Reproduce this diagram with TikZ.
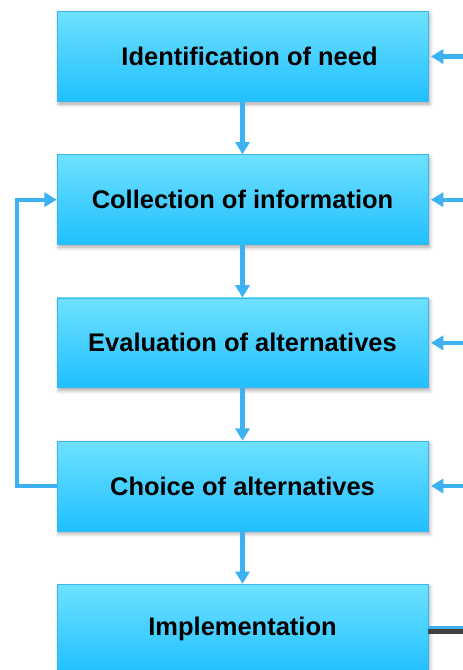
\documentclass[tikz,border=0pt]{standalone}
\usepackage{fontspec}
\setmainfont{Liberation Sans}
\usetikzlibrary{positioning,arrows.meta,shadows.blur}
\definecolor{boxtop}{HTML}{6EE1FF}
\definecolor{boxbot}{HTML}{20BFFF}
\definecolor{boxline}{HTML}{3CB4F2}
\definecolor{flow}{HTML}{3DB2F2}
\begin{document}
\begin{tikzpicture}[x=0.02cm,y=-0.02cm]
        \tikzstyle{stage}=[rectangle,draw=boxline,thin,top color=boxtop,bottom color=boxbot,
                minimum width=7.42cm,minimum height=1.8cm,font=\fontsize{14.5}{17}\selectfont\bfseries,
                blur shadow={shadow xshift=1pt,shadow yshift=-1.5pt,shadow blur steps=6,shadow opacity=35}]
        \tikzstyle{flowarrow}=[draw=flow,line width=2.4pt,-{Triangle[width=8pt,length=7pt]}]
        \useasboundingbox (0,0) rectangle (463,670);
        \begin{scope}[node distance=1.05cm]
                \node [stage] (need) at (242.5,56.5) {\hspace{8pt}Identification of need};
                \node [stage, below=of need] (info) {Collection of information};
                \node [stage, below=of info] (eval) {Evaluation of alternatives};
                \node [stage, below=of eval] (choice) {Choice of alternatives};
                \node [stage, below=of choice] (impl) {Implementation};
                % free ends at the right edge
                \foreach \n in {need,info,eval,choice,impl}
                        \coordinate (\n-r) at (463,0 |- \n.east);
                \path[flowarrow] (need) -- (info);
                \path[flowarrow] (info) -- (eval);
                \path[flowarrow] (eval) -- (choice);
                \path[flowarrow] (choice) -- (impl);
                \foreach \n in {need,info,eval,choice}
                        \path[flowarrow, shorten >=1.5pt] (\n-r) -- (\n.east);
                \path[flowarrow] (choice.west) -- ++(-40,0) |- (info.west);
                \draw[black!75,line width=3.6pt] ([yshift=-1.2pt]impl.east) -- ([yshift=-1.2pt]impl-r);
                \draw[flow,line width=1.6pt] ([yshift=1pt]impl.east) -- ([yshift=1pt]impl-r);
        \end{scope}
\end{tikzpicture}
\end{document}
